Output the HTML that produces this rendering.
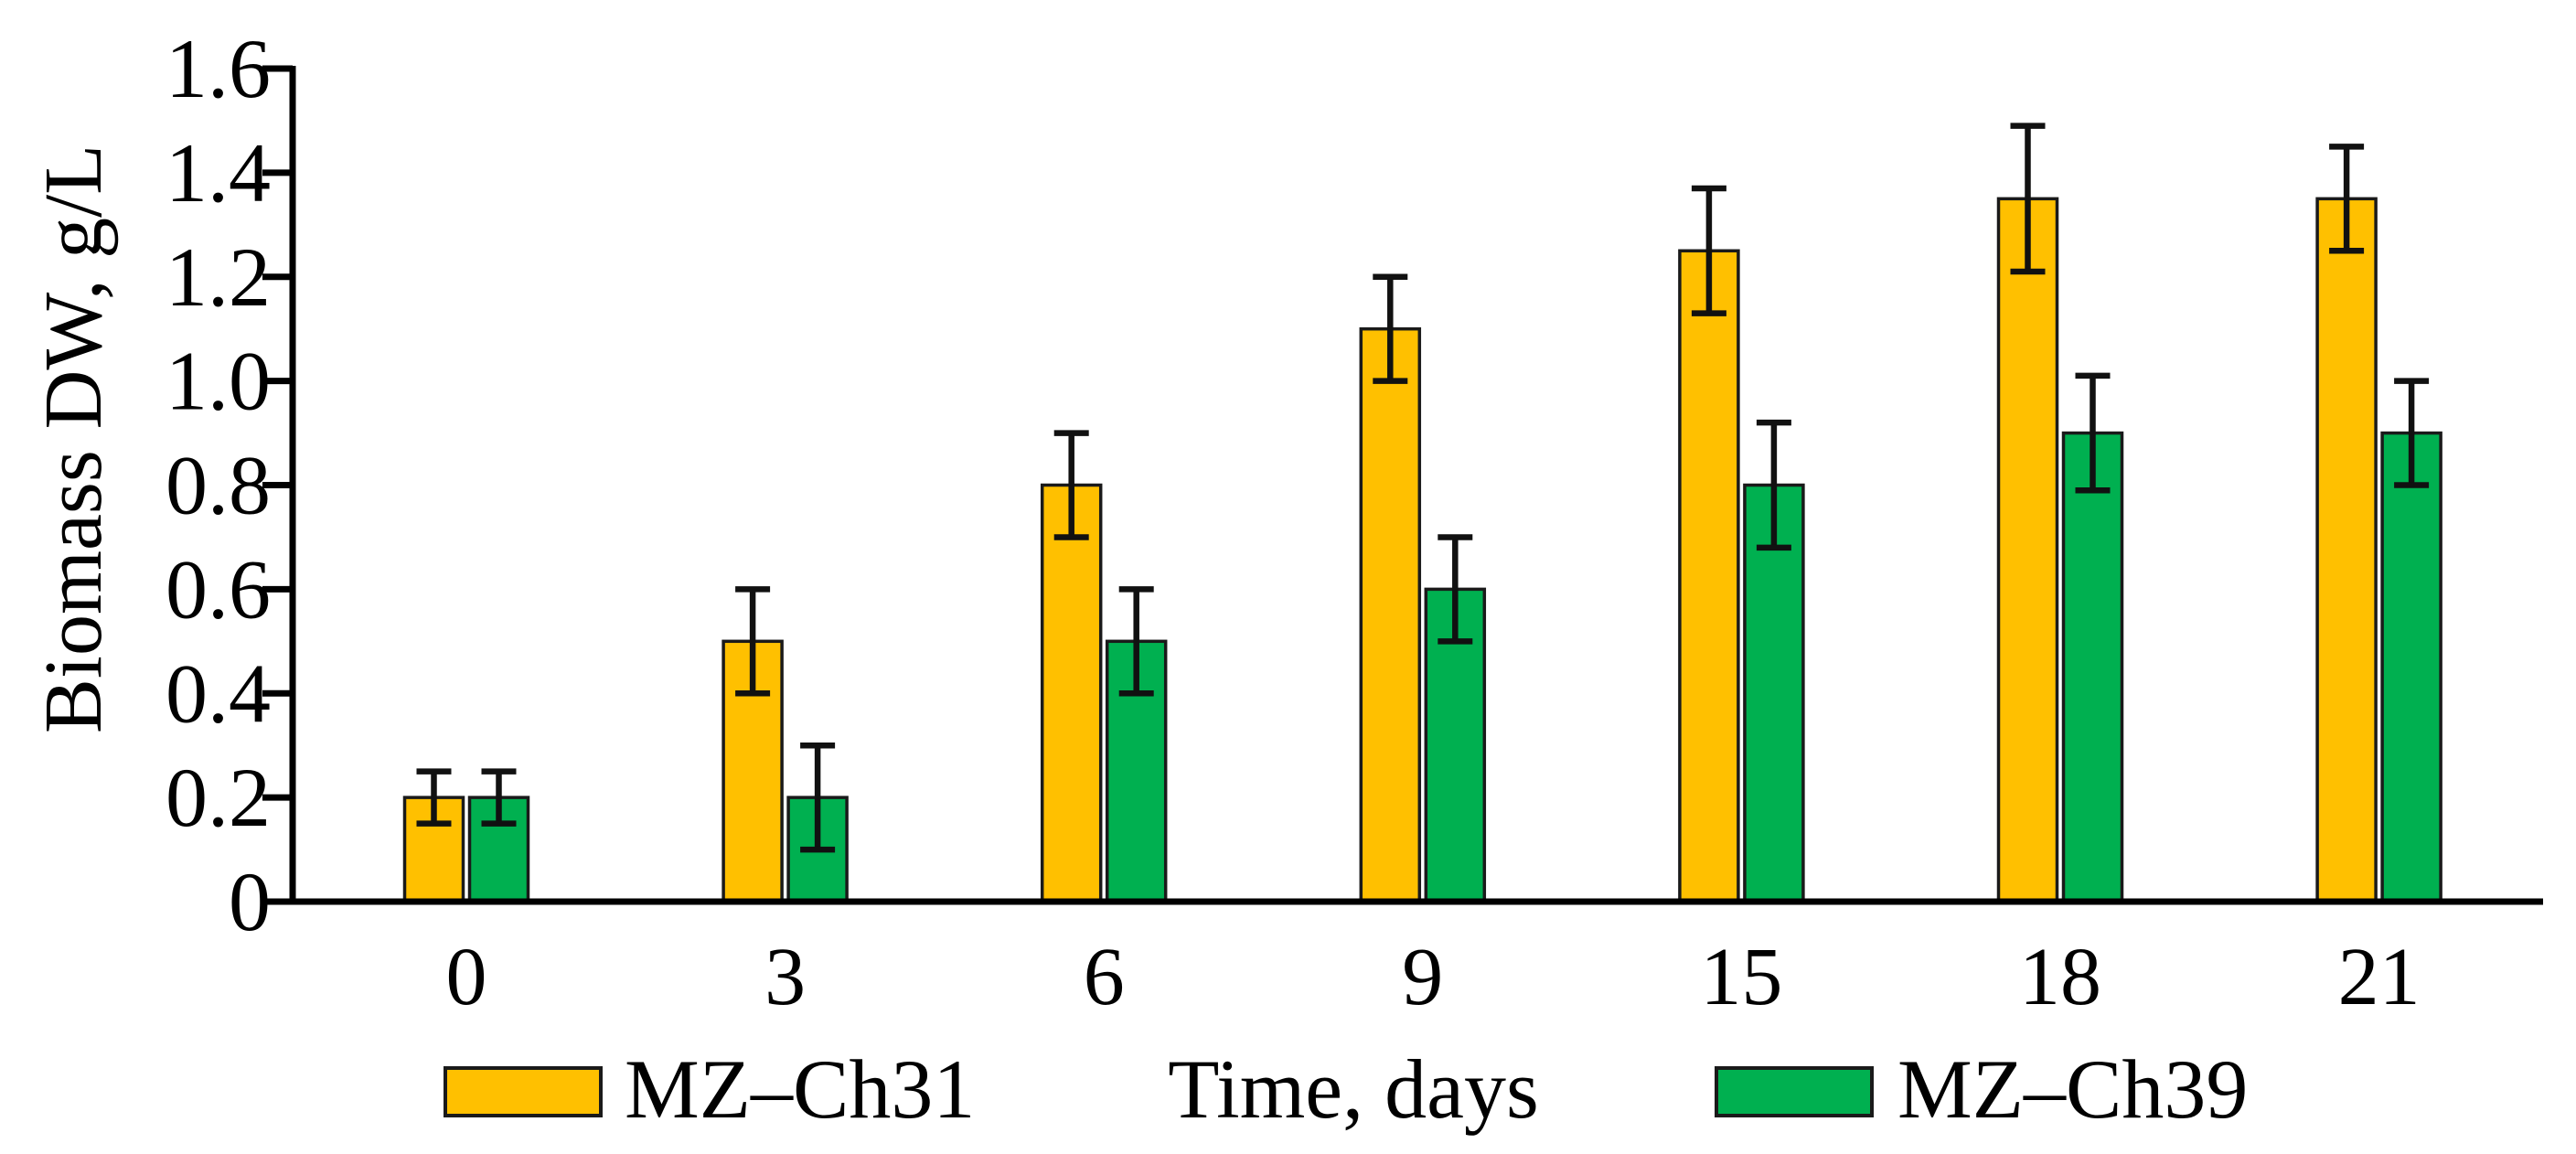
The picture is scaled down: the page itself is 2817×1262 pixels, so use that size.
<!DOCTYPE html>
<html><head><meta charset="utf-8"><style>
body{margin:0;background:#fff}
svg{display:block;font-family:"Liberation Serif",serif}
</style></head><body>
<svg id="c" width="2817" height="1262"></svg>
<script>
const categories=["0","3","6","9","15","18","21"];
const ch31=[0.2,0.5,0.8,1.1,1.25,1.35,1.35];
const ch31err=[0.05,0.1,0.1,0.1,0.12,0.14,0.1];
const ch39=[0.2,0.2,0.5,0.6,0.8,0.9,0.9];
const ch39err=[0.05,0.1,0.1,0.1,0.12,0.11,0.1];
const yTicks=[0,0.2,0.4,0.6,0.8,1.0,1.2,1.4,1.6];
const yTickLabels=["0","0.2","0.4","0.6","0.8","1.0","1.2","1.4","1.6"];
const NS="http://www.w3.org/2000/svg";
const svg=document.getElementById('c');
const X0=320,Y0=986,YT=75,XR=2781;
const y=v=>Y0-(v/1.6)*(Y0-YT);
const xc=i=>510+i*348.6;
function mk(t,a,p){const e=document.createElementNS(NS,t);for(const k in a)e.setAttribute(k,a[k]);(p||svg).appendChild(e);return e;}
const BW=64,G=7;
function bar(i,v,err,col,name,side){
  const x=side<0?xc(i)-G/2-BW:xc(i)+G/2;
  const r=mk('rect',{x:x,y:y(v),width:BW,height:Y0-y(v),fill:col,stroke:'#1a1a1a','stroke-width':3.5});
  
  
  const cx=x+BW/2;
  const g=mk('g',{stroke:'#111','stroke-width':6.5});
  
  
  mk('line',{x1:cx,x2:cx,y1:y(v+err),y2:y(v-err)},g);
  mk('line',{x1:cx-19,x2:cx+19,y1:y(v+err),y2:y(v+err)},g);
  mk('line',{x1:cx-19,x2:cx+19,y1:y(v-err),y2:y(v-err)},g);
}
categories.forEach((c,i)=>{
  bar(i,ch31[i],ch31err[i],'#FFC000','mz-ch31',-1);
  bar(i,ch39[i],ch39err[i],'#00B050','mz-ch39',1);
  const t=mk('text',{x:xc(i),y:1098,'font-size':90,'text-anchor':'middle'});
  t.textContent=c;
  
  
});
const ax=mk('g',{stroke:'#000','stroke-width':7});


mk('line',{x1:X0,x2:X0,y1:YT-3,y2:Y0},ax);
mk('line',{x1:287,x2:XR,y1:Y0,y2:Y0},ax);
yTicks.forEach((v,i)=>{
  mk('line',{x1:287,x2:X0,y1:y(v),y2:y(v)},ax);
  const t=mk('text',{x:296,y:y(v)+31,'font-size':92,'text-anchor':'end'});
  t.textContent=yTickLabels[i];
  
  
});
const yt=mk('text',{transform:'translate(110,480) rotate(-90)','font-size':90,'text-anchor':'middle'});
yt.textContent='Biomass DW, g/L';


const xt=mk('text',{x:1480,y:1222,'font-size':92,'text-anchor':'middle'});
xt.textContent='Time, days';


const l1=mk('rect',{x:487,y:1168,width:170,height:52,fill:'#FFC000',stroke:'#1a1a1a','stroke-width':4});


const lt1=mk('text',{x:683,y:1222,'font-size':92});
lt1.textContent='MZ–Ch31';


const l2=mk('rect',{x:1877,y:1168,width:170,height:52,fill:'#00B050',stroke:'#1a1a1a','stroke-width':4});


const lt2=mk('text',{x:2075,y:1222,'font-size':92});
lt2.textContent='MZ–Ch39';


</script>
</body></html>
